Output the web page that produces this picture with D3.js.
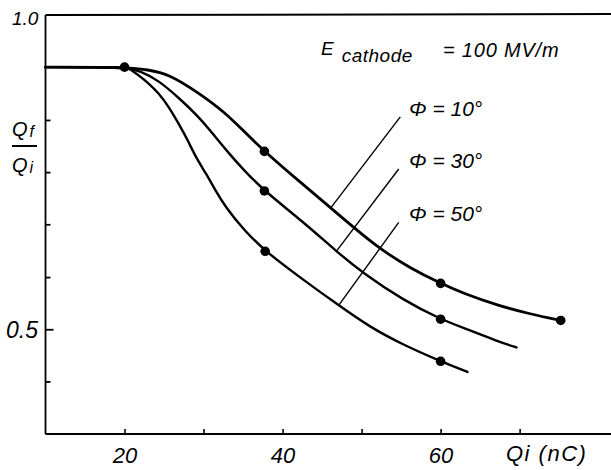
<!DOCTYPE html>
<html>
<head>
<meta charset="utf-8">
<script src="https://cdn.jsdelivr.net/npm/d3@7"></script>
<style>
  html, body { margin: 0; padding: 0; background: #fff; }
  svg { display: block; }
  text { font-family: "Liberation Sans", Arial, sans-serif; font-style: italic; fill: #000; }
</style>
</head>
<body>
<svg id="chart" width="611" height="470"></svg>
<script>
// ---- data ----
const xTicks = [20, 30, 40, 50, 60, 70];
const xTickLabels = ["20", "", "40", "", "60", ""];
const yTicks = [0.417, 0.5, 0.583, 0.667, 0.75, 0.833];
const yTickLabels = ["1.0", "0.5"];
const yLabelValues = [1.0, 0.5];

const curve10 = [[10,0.917],[20,0.917],[23.0,0.913],[25.6,0.906],[29.4,0.876],[32.8,0.844],[35.1,0.815],[37.7,0.783],[42.7,0.729],[46.1,0.693],[49.0,0.662],[52.4,0.627],[56.2,0.597],[60,0.573],[62.9,0.557],[67.2,0.538],[71.4,0.524],[75.2,0.514]];
const curve30 = [[10,0.917],[20,0.917],[22.0,0.911],[24.3,0.896],[26.8,0.869],[29.4,0.838],[31.5,0.806],[33.2,0.780],[35.1,0.753],[37.7,0.720],[42.7,0.670],[46.8,0.624],[50.1,0.590],[55.3,0.546],[60,0.516],[62.9,0.502],[67.2,0.481],[69.6,0.471]];
const curve50 = [[10,0.917],[20,0.917],[20.5,0.916],[21.8,0.904],[23.0,0.892],[24.3,0.876],[25.6,0.854],[26.8,0.828],[28.0,0.801],[29.0,0.774],[30.3,0.748],[31.5,0.721],[32.8,0.694],[35.1,0.658],[37.8,0.624],[42.7,0.578],[47.1,0.538],[51.1,0.503],[55.3,0.475],[60,0.449],[63.4,0.432]];

const markers10 = [[20,0.917],[37.7,0.783],[60,0.573],[75.2,0.514]];
const markers30 = [[37.7,0.720],[60,0.516]];
const markers50 = [[37.8,0.624],[60,0.449]];

const phiLabels = ["Φ = 10°", "Φ = 30°", "Φ = 50°"];
// leader lines: [label-end x, y, curve-end x, y] in data units
const leaders = [[54.9,0.838,46.1,0.693],[54.7,0.755,46.8,0.624],[54.7,0.670,47.1,0.538]];
const phiLabelAnchor = [[56.0,0.840],[56.0,0.756],[56.0,0.673]];

// ---- layout ----
const svg = d3.select("#chart");
const x = d3.scaleLinear().domain([10, 81.5]).range([45.5, 610.5]);
const y = d3.scaleLinear().domain([1/3, 1.0]).range([434, 15]);

// bottom axis with inward ticks
const xAxis = d3.axisBottom(x).tickValues(xTicks)
  .tickFormat((d, i) => xTickLabels[i]).tickSizeInner(-5).tickSizeOuter(0).tickPadding(13);
const gx = svg.append("g").attr("transform", `translate(0,${y(1/3)})`).call(xAxis);
gx.select(".domain").attr("d", `M${x(10)},0H611`).attr("stroke", "#000").attr("stroke-width", 2.2);
gx.selectAll(".tick line").attr("stroke", "#000").attr("stroke-width", 1.6);
gx.selectAll(".tick text").attr("font-size", 22).attr("font-family", "Liberation Sans")
  .attr("font-style", "italic").attr("fill", "#000");

// left axis
const yAxis = d3.axisLeft(y).tickValues(yTicks).tickFormat("").tickSizeInner(-5).tickSizeOuter(0);
const gy = svg.append("g").attr("transform", `translate(${x(10)},0)`).call(yAxis);
gy.select(".domain").attr("d", `M0,${y(1.0)}V${y(1/3)}`).attr("stroke", "#000").attr("stroke-width", 1.8);
gy.selectAll(".tick line").attr("stroke", "#000").attr("stroke-width", 1.8)
  .attr("x2", d => d === 0.5 ? 8 : 5);

// top frame line at 1.0
svg.append("line").attr("x1", x(10)).attr("x2", 611).attr("y1", y(1.0)).attr("y2", y(1.0) - 1)
  .attr("stroke", "#000").attr("stroke-width", 2);

// y labels
svg.append("text").attr("x", 12).attr("y", y(yLabelValues[0]) + 10).attr("font-size", 19).text(yTickLabels[0]);
svg.append("text").attr("x", 6).attr("y", y(yLabelValues[1]) + 8.5).attr("font-size", 23).text(yTickLabels[1]);

// y title Qf / Qi
const tq1 = svg.append("text").attr("x", 12).attr("y", 136).attr("font-size", 20);
tq1.append("tspan").text("Q");
tq1.append("tspan").attr("font-size", 16).attr("dx", 2).attr("dy", 1).text("f");
svg.append("line").attr("x1", 12).attr("x2", 37).attr("y1", 146).attr("y2", 146)
  .attr("stroke", "#000").attr("stroke-width", 2);
const tq2 = svg.append("text").attr("x", 12).attr("y", 172).attr("font-size", 20);
tq2.append("tspan").text("Q");
tq2.append("tspan").attr("font-size", 16).attr("dx", 2).attr("dy", 1).text("i");

// x title
svg.append("text").attr("x", 506).attr("y", 461).attr("font-size", 22).attr("letter-spacing", 1.5).text("Qi (nC)");

// E cathode annotation
const te = svg.append("text").attr("x", 321).attr("y", 55).attr("font-size", 19);
te.append("tspan").text("E");
te.append("tspan").attr("font-size", 19).attr("dx", 8).attr("dy", 7).attr("letter-spacing", 0.5).text("cathode");
svg.append("text").attr("x", 443).attr("y", 57).attr("font-size", 20).attr("letter-spacing", 0.8)
  .text("= 100 MV/m");

// curves (smoothed B-spline through the read points)
const line = d3.line().x(d => x(d[0])).y(d => y(d[1])).curve(d3.curveBasis);
[[curve10, 2.8], [curve30, 2.4], [curve50, 2.4]].forEach(([c, w]) => {
  svg.append("path").attr("d", line(c)).attr("fill", "none").attr("stroke", "#000")
    .attr("stroke-width", w).attr("stroke-linecap", "round");
});

// markers
[...markers10, ...markers30, ...markers50].forEach(p => {
  svg.append("circle").attr("cx", x(p[0])).attr("cy", y(p[1])).attr("r", 4.8).attr("fill", "#000");
});

// leaders & phi labels
leaders.forEach(l => {
  svg.append("line").attr("x1", x(l[0])).attr("y1", y(l[1])).attr("x2", x(l[2])).attr("y2", y(l[3]))
    .attr("stroke", "#000").attr("stroke-width", 1.4);
});
phiLabels.forEach((t, i) => {
  svg.append("text").attr("x", x(phiLabelAnchor[i][0])).attr("y", y(phiLabelAnchor[i][1]))
    .attr("font-size", 21).text(t);
});
</script>
</body>
</html>
